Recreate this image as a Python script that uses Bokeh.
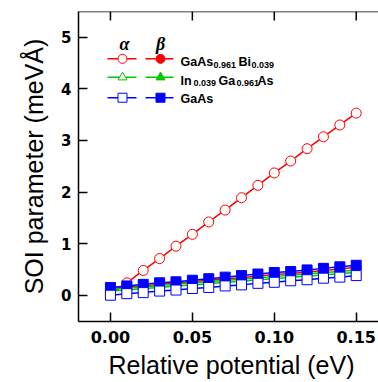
from bokeh.plotting import figure
from bokeh.models import Range1d, LinearAxis, FixedTicker, NumeralTickFormatter, Span, Title
from bokeh.core.properties import value
from bokeh.embed import file_html
from bokeh.resources import INLINE

# ---- data ----
potential = [0.00, 0.01, 0.02, 0.03, 0.04, 0.05, 0.06, 0.07, 0.08, 0.09,
             0.10, 0.11, 0.12, 0.13, 0.14, 0.15]
alpha_gaasbi = [0.02, 0.24, 0.48, 0.71, 0.95, 1.18, 1.42, 1.65, 1.89, 2.13,
                2.37, 2.60, 2.84, 3.07, 3.30, 3.53]
beta_gaasbi = [0.13, 0.16, 0.18, 0.21, 0.24, 0.26, 0.29, 0.32, 0.34, 0.37,
               0.40, 0.42, 0.45, 0.48, 0.51, 0.54]
alpha_ingaas = [0.08, 0.10, 0.13, 0.15, 0.18, 0.20, 0.22, 0.25, 0.27, 0.30,
                0.32, 0.35, 0.37, 0.39, 0.42, 0.44]
beta_ingaas = [0.11, 0.14, 0.16, 0.19, 0.21, 0.24, 0.26, 0.29, 0.31, 0.34,
               0.36, 0.39, 0.41, 0.44, 0.46, 0.49]
beta_gaas = [0.15, 0.18, 0.21, 0.24, 0.26, 0.29, 0.32, 0.35, 0.38, 0.41,
             0.44, 0.46, 0.49, 0.52, 0.55, 0.58]
alpha_gaas = [0.00, 0.03, 0.05, 0.08, 0.10, 0.13, 0.15, 0.18, 0.20, 0.23,
              0.25, 0.28, 0.30, 0.33, 0.35, 0.38]

x_ticks = [0.00, 0.05, 0.10, 0.15]
y_ticks = [0, 1, 2, 3, 4, 5]

RED = "#ff0000"
GREEN = "#00c800"
BLUE = "#0000ff"

X0, X1 = -0.0195, 0.1636
Y0, Y1 = -0.51, 5.5

W, H = 378, 382
BL, BT, BB = 78, 11, 60
p = figure(width=W, height=H, output_backend="svg", toolbar_location=None,
           x_range=Range1d(X0, X1), y_range=Range1d(Y0, Y1),
           min_border_left=BL, min_border_right=0, min_border_top=BT,
           min_border_bottom=BB, x_axis_location=None, y_axis_location=None)
p.outline_line_color = None
p.xgrid.visible = False
p.ygrid.visible = False
p.background_fill_color = "white"
p.border_fill_color = "white"


def style_axis(ax):
    ax.axis_line_width = 1.5
    ax.axis_line_color = "black"
    ax.major_tick_in = 9
    ax.major_tick_out = 0
    ax.major_tick_line_width = 1.5
    ax.major_tick_line_color = "black"
    ax.minor_tick_line_color = None
    ax.major_label_text_font = "DejaVu Sans"
    ax.major_label_text_font_style = "bold"
    ax.major_label_text_font_size = "15px"
    ax.major_label_text_color = "black"


xb = LinearAxis(ticker=FixedTicker(ticks=x_ticks),
                formatter=NumeralTickFormatter(format="0.00"))
style_axis(xb)
xb.major_label_text_font_size = "16px"
xb.major_label_standoff = 9
p.add_layout(xb, "below")

yl = LinearAxis(ticker=FixedTicker(ticks=y_ticks), axis_label="SOI parameter (meVÅ)")
style_axis(yl)
yl.major_label_standoff = 7
yl.axis_label_standoff = 10
yl.axis_label_text_font = "Liberation Sans"
yl.axis_label_text_font_style = "normal"
yl.axis_label_text_font_size = "25px"
yl.axis_label_text_color = "black"
p.add_layout(yl, "left")

# x axis label as a title below the plot, shifted to match the reference
p.add_layout(Title(text="Relative potential (eV)", align="left", offset=30,
                   text_font="Liberation Sans", text_font_size="25px",
                   text_font_style="normal", text_color="black",
                   standoff=7), "below")

FW, FH = W - BL, H - BT - BB


def dx(px):
    return X0 + (px - BL) / FW * (X1 - X0)


def dy(py):
    return Y1 - (py - BT) / FH * (Y1 - Y0)


# top border with inward ticks
p.add_layout(Span(location=Y1, dimension="width", line_color="black", line_width=1.5))
p.segment(x0=x_ticks, x1=x_ticks, y0=[Y1] * len(x_ticks),
          y1=[Y1 - 9 / FH * (Y1 - Y0)] * len(x_ticks),
          line_color="black", line_width=1.5)

# ---- series ----
series = [
    (alpha_gaasbi, RED, "circle", False),
    (beta_gaasbi, RED, "circle", True),
    (alpha_ingaas, GREEN, "triangle", False),
    (beta_ingaas, GREEN, "triangle", True),
    (beta_gaas, BLUE, "square", True),
    (alpha_gaas, BLUE, "square", False),
]
for vals, col, mk, filled in series:
    p.line(potential, vals, line_color=col, line_width=1.5)
    p.scatter(potential, vals, marker=mk, size=10,
              line_color=col, line_width=1,
              fill_color=col if filled else "white")

# ---- legend (page-pixel layout converted to data) ----
p.text(x=[dx(124), dx(160)], y=[dy(44), dy(44)], text=["α", "β"],
       text_font=value("Liberation Serif"), text_font_style="bold italic",
       text_font_size="18px", text_align="center", text_baseline="alphabetic",
       text_color="black")

rows = [(58.5, RED, "circle"), (77, GREEN, "triangle"), (97.5, BLUE, "square")]
for py, col, mk in rows:
    yy = dy(py)
    p.line([dx(107), dx(136)], [yy, yy], line_color=col, line_width=1.5)
    p.line([dx(145), dx(173)], [yy, yy], line_color=col, line_width=1.5)
    p.scatter([dx(122)], [yy], marker=mk, size=9, line_color=col,
              line_width=1, fill_color="white")
    p.scatter([dx(160)], [yy], marker=mk, size=9, line_color=col,
              line_width=1, fill_color=col)

LEG_FONT = value("Liberation Sans")
main_parts = [
    (180, 62, "GaAs"), (238, 62, "Bi"),
    (180, 80.5, "In"), (218, 80.5, "Ga"), (257, 80.5, "As"),
    (180, 99, "GaAs"),
]
sub_parts = [
    (213, 65, "0.961"), (251, 65, "0.039"),
    (193, 83, "0.039"), (236, 83, "0.961"),
]
p.text(x=[dx(a) for a, b, c in main_parts], y=[dy(b) for a, b, c in main_parts],
       text=[c for a, b, c in main_parts], text_font=LEG_FONT,
       text_font_style="bold", text_font_size="12.5px", text_align="left",
       text_baseline="alphabetic", text_color="black")
p.text(x=[dx(a) for a, b, c in sub_parts], y=[dy(b) for a, b, c in sub_parts],
       text=[c for a, b, c in sub_parts], text_font=LEG_FONT,
       text_font_style="bold", text_font_size="9px", text_align="left",
       text_baseline="alphabetic", text_color="black")

open("out.html", "w").write(file_html(p, INLINE))
